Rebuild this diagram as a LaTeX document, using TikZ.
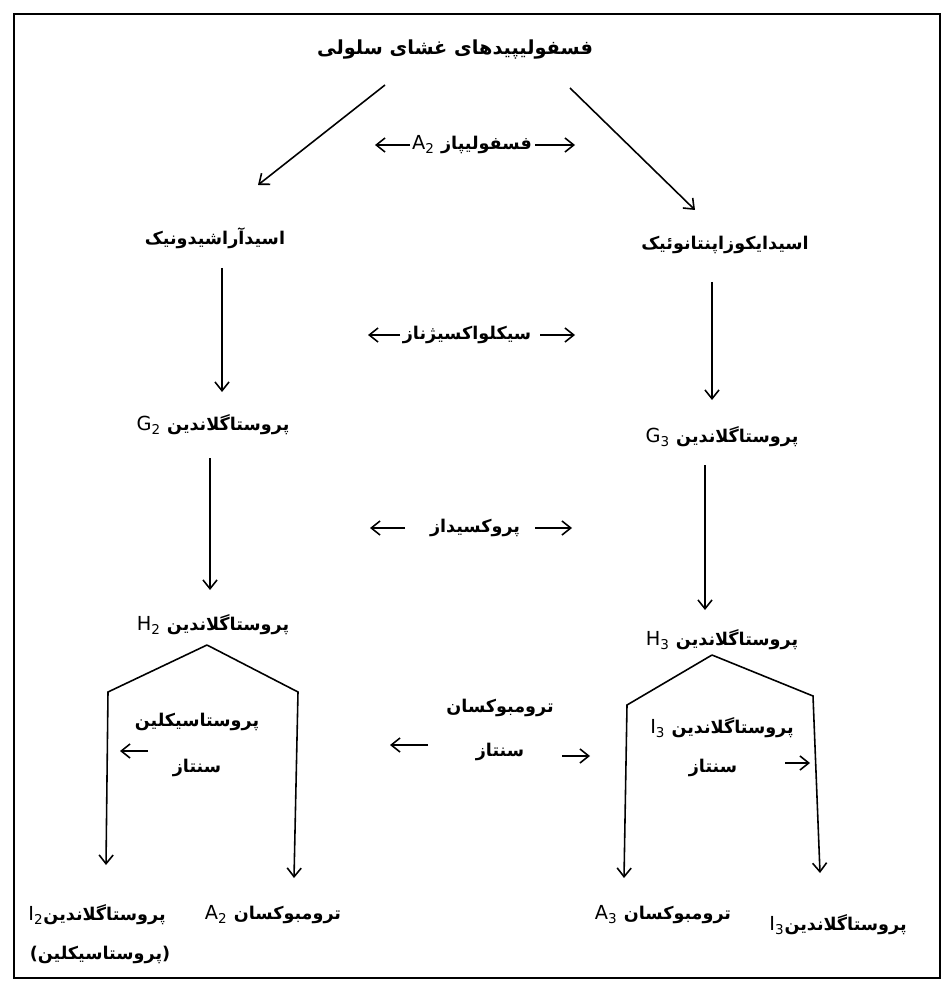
\documentclass[tikz,border=0pt]{standalone}
\usepackage{fontspec}
\newfontfamily\farsi[Script=Arabic]{DejaVu Sans}
\TeXXeTstate=1
\usetikzlibrary{arrows.meta}
\tikzset{>={Straight Barb[length=5pt,width=8pt]}}
\tikzset{
  lbl/.style={inner sep=0pt, font=\farsi\bfseries\fontsize{10}{12}\selectfont},
  heading/.style={inner sep=0pt, font=\farsi\bfseries\fontsize{11}{14}\selectfont},
  enz/.style={->}
}
\newcommand{\latsub}[2]{\beginL{\mdseries\fontsize{11}{13}\selectfont #1\textsubscript{#2}}\endL}

\begin{document}
\begin{tikzpicture}[x=0.02cm,y=-0.02cm,line width=0.9pt]
  \useasboundingbox (0,0) rectangle (952,996);
  \draw (14,14) rectangle (940,978);

  % substances
  \node[heading] (memb) at (455,50) {\beginR فسفولیپیدهای غشای سلولی\endR};
  \node[lbl] (ara)  at (215,238) {\beginR اسیدآراشیدونیک\endR};
  \node[lbl] (epa)  at (725,245) {\beginR اسیدایکوزاپنتانوئیک\endR};
  \node[lbl] (pgG2) at (213,425) {\beginR پروستاگلاندین \latsub{G}{2}\endR};
  \node[lbl] (pgG3) at (722,437) {\beginR پروستاگلاندین \latsub{G}{3}\endR};
  \node[lbl] (pgH2) at (213,625) {\beginR پروستاگلاندین \latsub{H}{2}\endR};
  \node[lbl] (pgH3) at (722,640) {\beginR پروستاگلاندین \latsub{H}{3}\endR};
  \node[lbl] (pgI2)  at (97,915)  {\beginR پروستاگلاندین\latsub{I}{2}\endR};
  \node[lbl] (pgI2b) at (100,955) {\beginR (پروستاسیکلین)\endR};
  \node[lbl] (txA2) at (273,915) {\beginR ترومبوکسان \latsub{A}{2}\endR};
  \node[lbl] (txA3) at (663,915) {\beginR ترومبوکسان \latsub{A}{3}\endR};
  \node[lbl] (pgI3) at (838,925) {\beginR پروستاگلاندین\latsub{I}{3}\endR};

  % enzymes
  \node[lbl] (phos)  at (472,145) {\beginR فسفولیپاز \latsub{A}{2}\endR};
  \node[lbl] (cox)   at (467,335) {\beginR سیکلواکسیژناز\endR};
  \node[lbl] (perox) at (475,528) {\beginR پروکسیداز\endR};
  \node[lbl] (pcs1)  at (197,722) {\beginR پروستاسیکلین\endR};
  \node[lbl] (pcs2)  at (197,768) {\beginR سنتاز\endR};
  \node[lbl] (txs1)  at (500,708) {\beginR ترومبوکسان\endR};
  \node[lbl] (txs2)  at (500,752) {\beginR سنتاز\endR};
  \node[lbl] (pis1)  at (722,728) {\beginR پروستاگلاندین \latsub{I}{3}\endR};
  \node[lbl] (pis2)  at (713,768) {\beginR سنتاز\endR};

  % main pathway
  \draw[->] ([shift={(-70,35)}]memb.center) -- ([shift={(43,-53)}]ara.center);
  \draw[->] ([shift={(115,38)}]memb.center) -- ([shift={(-30,-35)}]epa.center);
  \draw[->] ([shift={(7,30)}]ara.center) -- ([shift={(9,-33)}]pgG2.center);
  \draw[->] ([shift={(-13,37)}]epa.center) -- ([shift={(-10,-37)}]pgG3.center);
  \draw[->] ([shift={(-3,33)}]pgG2.center) -- ([shift={(-3,-35)}]pgH2.center);
  \draw[->] ([shift={(-17,28)}]pgG3.center) -- ([shift={(-17,-30)}]pgH3.center);

  % branches
  \coordinate (lpeak) at ([shift={(-6,20)}]pgH2.center);
  \coordinate (lsl) at (108,692);
  \coordinate (lsr) at (298,692);
  \coordinate (rpeak) at ([shift={(-10,15)}]pgH3.center);
  \coordinate (rsl) at (627,705);
  \coordinate (rsr) at (813,696);
  \draw[->] (lpeak) -- (lsl) -- ([shift={(9,-50)}]pgI2.center);
  \draw[->] (lpeak) -- (lsr) -- ([shift={(21,-37)}]txA2.center);
  \draw[->] (rpeak) -- (rsl) -- ([shift={(-39,-37)}]txA3.center);
  \draw[->] (rpeak) -- (rsr) -- ([shift={(-18,-52)}]pgI3.center);

  % enzyme arrows
  \draw[enz] ([shift={(-62,0)}]phos.center) -- ++(-35,0);
  \draw[enz] ([shift={(63,0)}]phos.center) -- ++(40,0);
  \draw[enz] ([shift={(-67,0)}]cox.center) -- ++(-32,0);
  \draw[enz] ([shift={(73,0)}]cox.center) -- ++(35,0);
  \draw[enz] ([shift={(-70,0)}]perox.center) -- ++(-35,0);
  \draw[enz] ([shift={(60,0)}]perox.center) -- ++(37,0);
  \draw[enz] ([shift={(-49,-17)}]pcs2.center) -- ++(-28,0);
  \draw[enz] ([shift={(-72,-7)}]txs2.center) -- ++(-38,0);
  \draw[enz] ([shift={(62,4)}]txs2.center) -- ++(28,0);
  \draw[enz] ([shift={(72,-5)}]pis2.center) -- ++(25,0);
\end{tikzpicture}
\end{document}
